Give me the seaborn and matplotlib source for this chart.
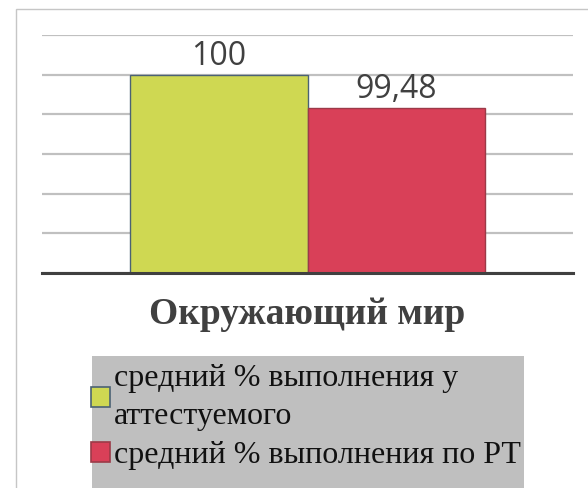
import seaborn as sns
import matplotlib.pyplot as plt
import pandas as pd
import numpy as np
from matplotlib.patches import Patch, Rectangle

# data
subject = ["Окружающий мир"]
series = ["средний % выполнения у\nаттестуемого", "средний % выполнения по РТ"]
values = [100, 99.48]
colors = ["#cfd852", "#d94058"]
edges = ["#4b6274", "#9c3a48"]

df = pd.DataFrame({"subject": subject * len(series), "series": series, "value": values})

sns.set_theme(style="white")
plt.rcParams['font.family'] = ['Liberation Serif', 'DejaVu Sans']

W, H = 588, 488
fig = plt.figure(figsize=(W / 100, H / 100), dpi=100)

# outer light frame
fig.patches.append(Rectangle((16 / W, -0.1), 1.2, (H - 9) / H + 0.1, transform=fig.transFigure,
                             fill=False, edgecolor="#c6c6c6", lw=1))

ax = fig.add_axes([42 / W, (H - 273) / H, 531 / W, (273 - 35) / H])
sns.barplot(data=df, x="subject", y="value", hue="series", palette=colors,
            width=0.668, dodge=True, saturation=1, legend=False, ax=ax)

for bar, ec in zip(ax.patches, edges):
    bar.set_edgecolor(ec)
    bar.set_linewidth(1.0)

step = 0.625
ax.set_ylim(100 - 5 * step, 100 + step + 0.002)
ax.set_yticks(np.arange(100 - 5 * step, 100 + step + 0.01, step))
ax.set_yticklabels([])
ax.tick_params(axis="y", length=0)
ax.set_xlim(-0.5, 0.5)
ax.set_axisbelow(True)
ax.grid(axis="y", color="#c0c0c0", lw=1.6)
ax.set_xlabel("")
ax.set_ylabel("")
for s in ["top", "right", "left"]:
    ax.spines[s].set_visible(False)
ax.spines["bottom"].set_color("#404040")
ax.spines["bottom"].set_linewidth(2.2)
ax.tick_params(axis="x", length=0, pad=17)
for t in ax.get_xticklabels():
    t.set_fontfamily("Liberation Serif")
    t.set_fontweight("bold")
    t.set_fontsize(27)
    t.set_color("#404040")

for cont in ax.containers:
    labels = [f"{v:g}".replace(".", ",") for v in cont.datavalues]
    ax.bar_label(cont, labels=labels, padding=1, fontsize=23, color="#404040",
                 family="Open Sans")

# grey legend block
fig.patches.append(Rectangle((92 / W, -0.1), (524 - 92) / W, (H - 356) / H + 0.1,
                             transform=fig.transFigure, facecolor="#bfbfbf",
                             edgecolor="none", zorder=0))
handles = [Patch(facecolor=c, edgecolor=e, lw=1.2) for c, e in zip(colors, edges)]
leg = fig.legend(handles, series, loc="upper left", bbox_to_anchor=(91 / W, (H - 364) / H),
                 frameon=False, borderpad=0, borderaxespad=0, handlelength=0.6,
                 handleheight=0.6, handletextpad=0.12, labelspacing=0.33,
                 prop={"family": "Liberation Serif", "size": 23})
for t in leg.get_texts():
    t.set_linespacing(1.4)
    t.set_color("#111111")

fig.savefig("out.png", dpi=100)
